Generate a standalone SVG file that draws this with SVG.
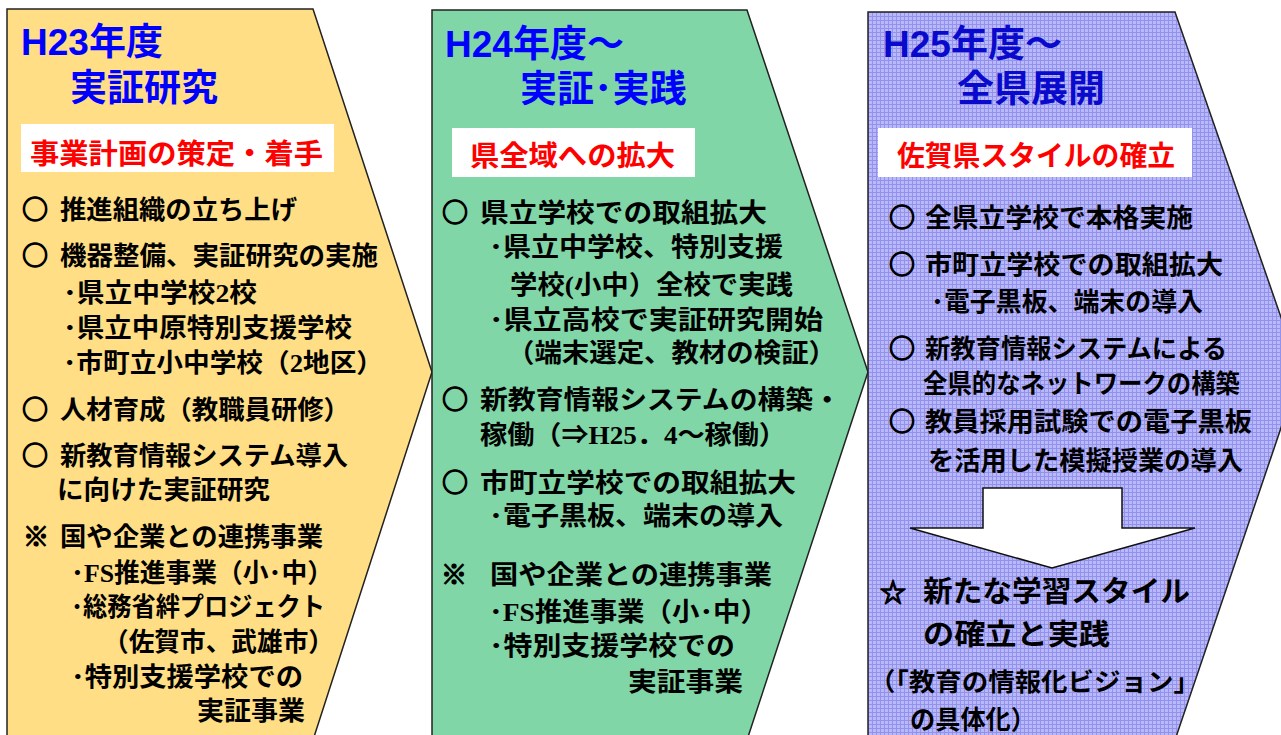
<svg xmlns="http://www.w3.org/2000/svg" width="1281" height="735" viewBox="0 0 1281 735">
<defs>
<pattern id="grid" width="4" height="4" patternUnits="userSpaceOnUse">
<rect width="4" height="4" fill="#B9B9FA"/>
<rect width="4" height="1" fill="#9292EE"/>
<rect width="1" height="4" fill="#9292EE"/>
</pattern>
<style>
.panel{stroke:#222;stroke-width:1.5}
.t{font-family:"Liberation Sans","Noto Sans CJK JP",sans-serif;font-weight:bold;font-size:37px;fill:#0000FF}
.t3{fill:#0A0ACC}
.lab{font-family:"Noto Sans CJK JP",sans-serif;font-weight:bold;font-size:28px;fill:#FF0000}
.b{font-family:"Liberation Serif","Noto Sans CJK JP",serif;font-weight:bold;font-size:26px;fill:#000}
.s{font-family:"Noto Sans CJK JP",sans-serif;font-weight:bold;font-size:26px;fill:#000;stroke:#000;stroke-width:1.3}
.big{font-size:29px}
.sm{font-size:25px}
</style>
</defs>
<rect width="1281" height="735" fill="#FFFFFF"/>

<g id="panel1">
<polygon class="panel" points="7,9 313,9 432,372 313,740 7,740" fill="#FFDE85"/>
<text class="t" x="21" y="55">H23年度</text>
<text class="t" x="70" y="101">実証研究</text>
<rect x="21" y="124" width="313" height="48" fill="#FFFFFF"/>
<text class="lab" x="30" y="164" textLength="293" lengthAdjust="spacingAndGlyphs">事業計画の策定・着手</text>
<text class="s" x="22" y="219">○</text>
<text class="b" x="60" y="219" textLength="237" lengthAdjust="spacingAndGlyphs">推進組織の立ち上げ</text>
<text class="s" x="22" y="265">○</text>
<text class="b" x="60" y="265" textLength="318" lengthAdjust="spacingAndGlyphs">機器整備、実証研究の実施</text>
<text class="b" x="63" y="302" textLength="194" lengthAdjust="spacingAndGlyphs">･県立中学校2校</text>
<text class="b" x="63" y="337" textLength="289" lengthAdjust="spacingAndGlyphs">･県立中原特別支援学校</text>
<text class="b" x="63" y="372" textLength="320" lengthAdjust="spacingAndGlyphs">･市町立小中学校（2地区）</text>
<text class="s" x="22" y="419">○</text>
<text class="b" x="60" y="419" textLength="290" lengthAdjust="spacingAndGlyphs">人材育成（教職員研修）</text>
<text class="s" x="22" y="465">○</text>
<text class="b" x="60" y="465" textLength="288" lengthAdjust="spacingAndGlyphs">新教育情報システム導入</text>
<text class="b" x="57" y="499" textLength="213" lengthAdjust="spacingAndGlyphs">に向けた実証研究</text>
<text class="s" x="23" y="546">※</text>
<text class="b" x="60" y="546" textLength="263" lengthAdjust="spacingAndGlyphs">国や企業との連携事業</text>
<text class="b" x="71" y="582" textLength="262" lengthAdjust="spacingAndGlyphs">･FS推進事業（小･中）</text>
<text class="b" x="71" y="616" textLength="254" lengthAdjust="spacingAndGlyphs">･総務省絆プロジェクト</text>
<text class="b" x="103" y="651" textLength="231" lengthAdjust="spacingAndGlyphs">（佐賀市、武雄市）</text>
<text class="b" x="71" y="686" textLength="232" lengthAdjust="spacingAndGlyphs">･特別支援学校での</text>
<text class="b" x="197" y="720" textLength="108" lengthAdjust="spacingAndGlyphs">実証事業</text>
</g>

<g id="panel2">
<polygon class="panel" points="432,10 747,10 868,372 747,740 432,740" fill="#80D6A6"/>
<text class="t" x="445" y="57">H24年度～</text>
<text class="t" x="520" y="102">実証･実践</text>
<rect x="452" y="128" width="243" height="49" fill="#FFFFFF"/>
<text class="lab" x="470" y="166" textLength="205" lengthAdjust="spacingAndGlyphs">県全域への拡大</text>
<text class="s" x="442" y="222">○</text>
<text class="b" x="480" y="222" textLength="287" lengthAdjust="spacingAndGlyphs">県立学校での取組拡大</text>
<text class="b" x="489" y="256" textLength="294" lengthAdjust="spacingAndGlyphs">･県立中学校、特別支援</text>
<text class="b" x="510" y="294" textLength="283" lengthAdjust="spacingAndGlyphs">学校(小中）全校で実践</text>
<text class="b" x="489" y="329" textLength="334" lengthAdjust="spacingAndGlyphs">･県立高校で実証研究開始</text>
<text class="b" x="507" y="362" textLength="329" lengthAdjust="spacingAndGlyphs">（端末選定、教材の検証）</text>
<text class="s" x="442" y="409">○</text>
<text class="b" x="480" y="409" textLength="361" lengthAdjust="spacingAndGlyphs">新教育情報システムの構築・</text>
<text class="b" x="480" y="444" textLength="306" lengthAdjust="spacingAndGlyphs">稼働（⇒H25．4～稼働）</text>
<text class="s" x="442" y="492">○</text>
<text class="b" x="480" y="492" textLength="316" lengthAdjust="spacingAndGlyphs">市町立学校での取組拡大</text>
<text class="b" x="489" y="525" textLength="294" lengthAdjust="spacingAndGlyphs">･電子黒板、端末の導入</text>
<text class="s" x="441" y="584">※</text>
<text class="b" x="490" y="584" textLength="282" lengthAdjust="spacingAndGlyphs">国や企業との連携事業</text>
<text class="b" x="489" y="621" textLength="279" lengthAdjust="spacingAndGlyphs">･FS推進事業（小･中）</text>
<text class="b" x="489" y="655" textLength="246" lengthAdjust="spacingAndGlyphs">･特別支援学校での</text>
<text class="b" x="628" y="691" textLength="115" lengthAdjust="spacingAndGlyphs">実証事業</text>
</g>

<g id="panel3">
<polygon class="panel" points="868,12 1175,12 1300,372 1175,740 868,740" fill="url(#grid)"/>
<text class="t t3" x="883" y="57">H25年度～</text>
<text class="t t3" x="957" y="102">全県展開</text>
<rect x="878" y="128" width="314" height="49" fill="#FFFFFF"/>
<text class="lab" x="897" y="166" textLength="278" lengthAdjust="spacingAndGlyphs">佐賀県スタイルの確立</text>
<text class="s" x="889" y="227">○</text>
<text class="b" x="925" y="227" textLength="268" lengthAdjust="spacingAndGlyphs">全県立学校で本格実施</text>
<text class="s" x="889" y="274">○</text>
<text class="b" x="925" y="274" textLength="298" lengthAdjust="spacingAndGlyphs">市町立学校での取組拡大</text>
<text class="b" x="931" y="311" textLength="272" lengthAdjust="spacingAndGlyphs">･電子黒板、端末の導入</text>
<text class="s" x="889" y="358">○</text>
<text class="b" x="925" y="358" textLength="302" lengthAdjust="spacingAndGlyphs">新教育情報システムによる</text>
<text class="b" x="923" y="393" textLength="317" lengthAdjust="spacingAndGlyphs">全県的なネットワークの構築</text>
<text class="s" x="889" y="431">○</text>
<text class="b" x="925" y="431" textLength="327" lengthAdjust="spacingAndGlyphs">教員採用試験での電子黒板</text>
<text class="b" x="928" y="470" textLength="315" lengthAdjust="spacingAndGlyphs">を活用した模擬授業の導入</text>
<text class="s" x="880" y="602">☆</text>
<text class="b big" x="923" y="602" textLength="267" lengthAdjust="spacingAndGlyphs">新たな学習スタイル</text>
<text class="b big" x="923" y="645" textLength="187" lengthAdjust="spacingAndGlyphs">の確立と実践</text>
<text class="b sm" x="869" y="691" textLength="331" lengthAdjust="spacingAndGlyphs">（「教育の情報化ビジョン」</text>
<text class="b" x="910" y="729" textLength="126" lengthAdjust="spacingAndGlyphs">の具体化）</text>
</g>

<g id="connectors">
<polygon points="983,488 1122,488 1122,528 1195,528 1052,568 910,528 983,528" fill="#FFFFFF" stroke="#111" stroke-width="1.5"/>
</g>
</svg>
